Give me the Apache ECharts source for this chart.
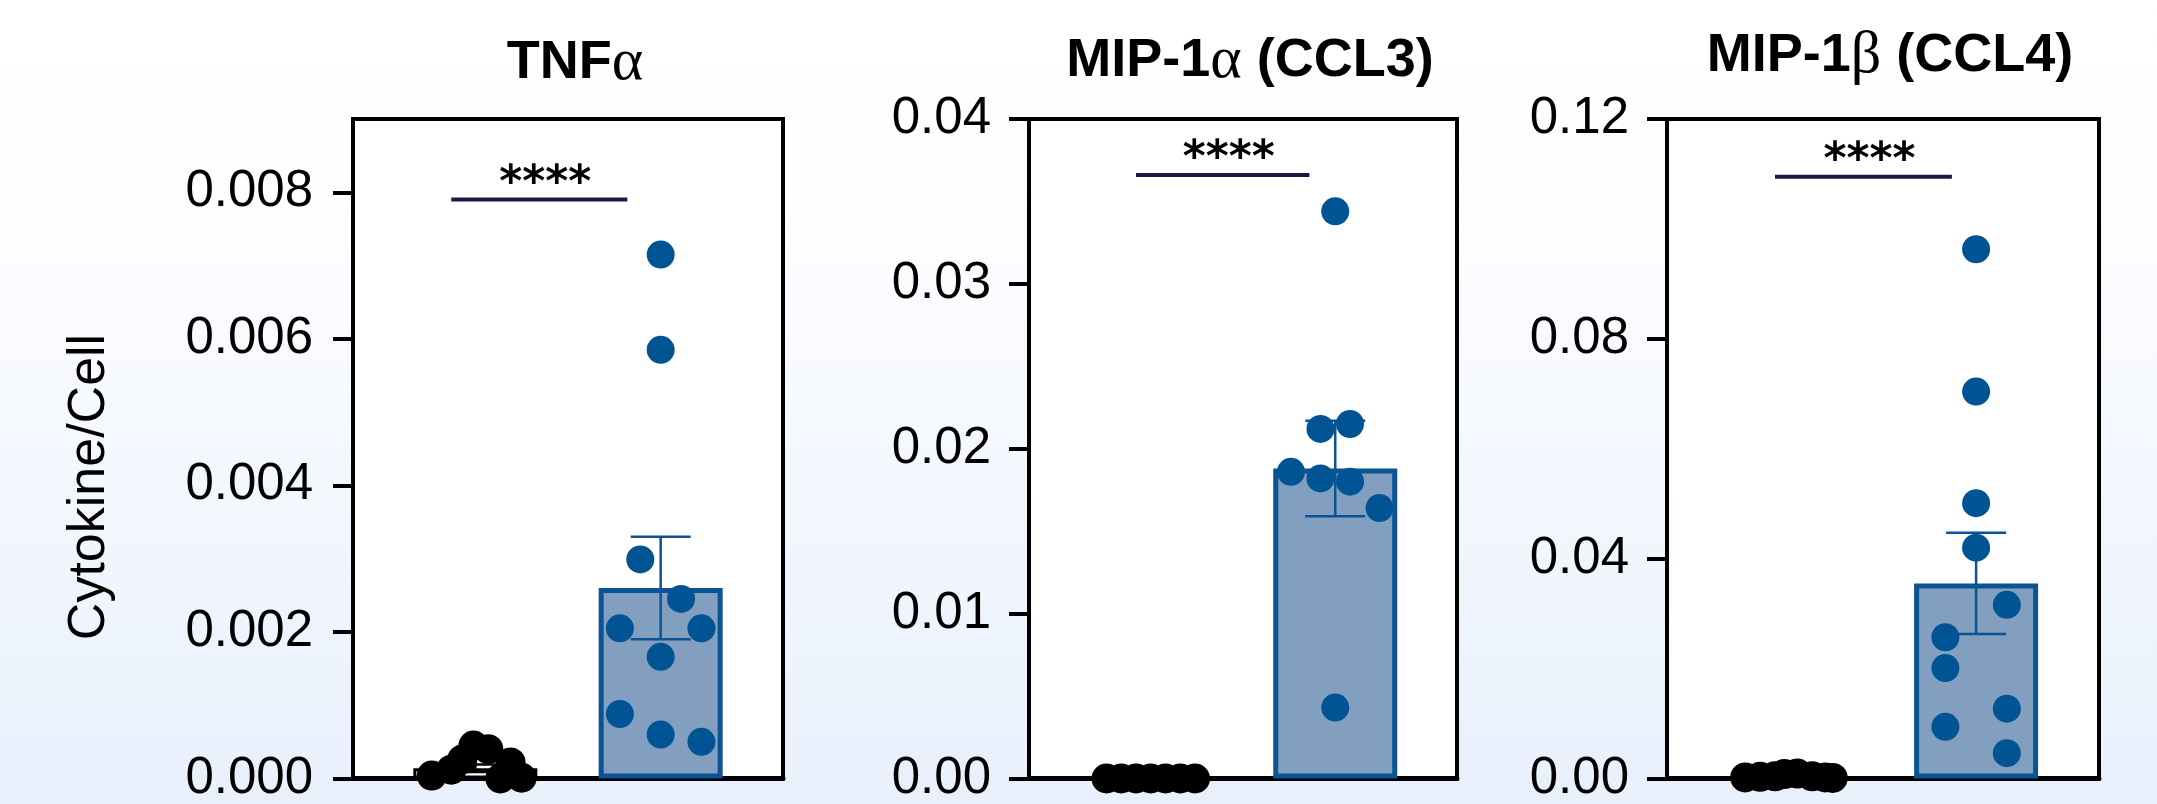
<!DOCTYPE html>
<html>
<head>
<meta charset="utf-8">
<script src="https://cdn.jsdelivr.net/npm/echarts@6/dist/echarts.min.js"></script>
<style>
  html, body { margin: 0; padding: 0; }
  #chart { width: 2157px; height: 804px; }
</style>
</head>
<body>
<div id="chart"></div>
<script>
// ---- data ----
var titles = ['TNF{g|α}', 'MIP-1{g|α} (CCL3)', 'MIP-1{g|β} (CCL4)'];
var yName = 'Cytokine/Cell';
var stars = '****';

// TNFa
var tnfCtrl = [0.00004, 0.00012, 0.00026, 0.00045, 0.0004, 0.00022, 0, 0.00001];
var tnfCtrlJitter = [-0.235, -0.13, -0.07, -0.01, 0.07, 0.19, 0.135, 0.25];
var tnfTreat = [0.00715, 0.00585, 0.00299, 0.00245, 0.00205, 0.00205, 0.00166, 0.00088, 0.0006, 0.0005];
var tnfTreatJitter = [0, 0, -0.11, 0.11, -0.22, 0.22, 0, -0.22, 0, 0.22];
var tnfMean = [0.00014, 0.0026];
var tnfSem = [0.00005, 0.0007];
var tnfSig = [-0.13, 0.82, 0.0079];
var tnfTicks = [0, 0.002, 0.004, 0.006, 0.008];
var tnfTickLabels = ['0.000', '0.002', '0.004', '0.006', '0.008'];
var tnfMax = 0.009;

// MIP-1a (CCL3)
var ccl3Ctrl = [0, 0, 0, 0, 0, 0, 0];
var ccl3CtrlJitter = [-0.24, -0.16, -0.08, 0, 0.08, 0.16, 0.24];
var ccl3Treat = [0.0344, 0.0212, 0.0215, 0.0186, 0.0182, 0.018, 0.0164, 0.0043];
var ccl3TreatJitter = [0, -0.08, 0.08, -0.24, -0.08, 0.08, 0.24, 0];
var ccl3Mean = [0, 0.0188];
var ccl3Sem = [0, 0.0029];
var ccl3Sig = [-0.08, 0.86, 0.0366];
var ccl3Ticks = [0, 0.01, 0.02, 0.03, 0.04];
var ccl3TickLabels = ['0.00', '0.01', '0.02', '0.03', '0.04'];
var ccl3Max = 0.04;

// MIP-1b (CCL4)
var ccl4Ctrl = [0.0002, 0.0003, 0.0004, 0.0008, 0.0009, 0.0004, 0.0002, 0.0001];
var ccl4CtrlJitter = [-0.24, -0.16, -0.08, -0.03, 0.04, 0.12, 0.19, 0.23];
var ccl4Treat = [0.0963, 0.0704, 0.0501, 0.042, 0.0316, 0.0257, 0.0201, 0.0127, 0.0094, 0.0046];
var ccl4TreatJitter = [0, 0, 0, 0, 0.165, -0.165, -0.165, 0.165, -0.165, 0.165];
var ccl4Mean = [0.0004, 0.0355];
var ccl4Sem = [0.0001, 0.0092];
var ccl4Sig = [-0.08, 0.87, 0.1095];
var ccl4Ticks = [0, 0.04, 0.08, 0.12];
var ccl4TickLabels = ['0.00', '0.04', '0.08', '0.12'];
var ccl4Max = 0.12;

var panels = [
    { ctrl: tnfCtrl, ctrlJ: tnfCtrlJitter, treat: tnfTreat, treatJ: tnfTreatJitter, mean: tnfMean, sem: tnfSem, sig: tnfSig, ticks: tnfTicks, labels: tnfTickLabels, max: tnfMax },
    { ctrl: ccl3Ctrl, ctrlJ: ccl3CtrlJitter, treat: ccl3Treat, treatJ: ccl3TreatJitter, mean: ccl3Mean, sem: ccl3Sem, sig: ccl3Sig, ticks: ccl3Ticks, labels: ccl3TickLabels, max: ccl3Max },
    { ctrl: ccl4Ctrl, ctrlJ: ccl4CtrlJitter, treat: ccl4Treat, treatJ: ccl4TreatJitter, mean: ccl4Mean, sem: ccl4Sem, sig: ccl4Sig, ticks: ccl4Ticks, labels: ccl4TickLabels, max: ccl4Max }
];

// ---- layout / style ----
var grids = [
    { left: 353, right: 1374, top: 119, bottom: 23 },
    { left: 1029, right: 700, top: 119, bottom: 25 },
    { left: 1667, right: 58, top: 119, bottom: 24 }
];
var titleX = [570, 1245, 1885];
var titleTop = [30, 28, 23];
var labelMargin = [40, 38, 38];
var font = '"Liberation Sans", Arial, sans-serif';
var dotBlue = '#005493';
var barFill = '#829fbf';
var barEdge = '#0b5394';
var sigColor = '#1b1947';

function errorItem(params, api) {
    var x = api.value(0), m = api.value(1), s = api.value(2);
    var top = api.coord([x, m + s]);
    var bot = api.coord([x, m - s]);
    var color = x < 0.5 ? '#000' : barEdge;
    var st = { stroke: color, lineWidth: 2.5 };
    return {
        type: 'group',
        children: [
            { type: 'line', shape: { x1: top[0], y1: top[1], x2: bot[0], y2: bot[1] }, style: st },
            { type: 'line', shape: { x1: top[0] - 30, y1: top[1], x2: top[0] + 30, y2: top[1] }, style: st },
            { type: 'line', shape: { x1: bot[0] - 30, y1: bot[1], x2: bot[0] + 30, y2: bot[1] }, style: st }
        ]
    };
}

function sigItem(params, api) {
    var p1 = api.coord([api.value(0), api.value(2)]);
    var p2 = api.coord([api.value(1), api.value(2)]);
    return {
        type: 'group',
        children: [
            { type: 'line', shape: { x1: p1[0], y1: p1[1], x2: p2[0], y2: p2[1] }, style: { stroke: sigColor, lineWidth: 4 } },
            {
                type: 'text',
                style: {
                    text: stars, x: (p1[0] + p2[0]) / 2 + 6, y: p1[1] - 15,
                    align: 'center', verticalAlign: 'middle',
                    font: 'bold 44px "DejaVu Sans"', fill: '#000'
                }
            }
        ]
    };
}

var option = {
    backgroundColor: new echarts.graphic.LinearGradient(0, 0, 0, 1, [
        { offset: 0, color: '#ffffff' },
        { offset: 0.3, color: '#fcfdff' },
        { offset: 1, color: '#e8f0fc' }
    ]),
    animation: false,
    title: [],
    grid: [],
    xAxis: [],
    yAxis: [],
    series: [],
    graphic: [{
        type: 'text',
        x: 90, y: 487,
        rotation: Math.PI / 2,
        style: { text: yName, font: '52px ' + font, align: 'center', verticalAlign: 'middle', fill: '#000' }
    }]
};

panels.forEach(function (p, i) {
    option.title.push({
        text: titles[i],
        left: titleX[i],
        top: titleTop[i],
        textAlign: 'center',
        textStyle: {
            fontFamily: font, fontWeight: 'bold', fontSize: 54, color: '#000', lineHeight: 56,
            rich: { g: { fontFamily: '"Liberation Serif", "DejaVu Serif", serif', fontWeight: 'normal', fontSize: 60, color: '#000', lineHeight: 56 } }
        }
    });
    option.grid.push({
        left: grids[i].left, right: grids[i].right, top: grids[i].top, bottom: grids[i].bottom,
        show: true, backgroundColor: '#fff', borderColor: '#000', borderWidth: 4
    });
    option.xAxis.push({
        type: 'value', gridIndex: i, min: -0.66, max: 1.66,
        axisLine: { show: true, onZero: false, lineStyle: { color: '#000', width: 5 } },
        axisTick: { show: false }, axisLabel: { show: false }, splitLine: { show: false }
    });
    option.yAxis.push({
        type: 'value', gridIndex: i, min: 0, max: p.max,
        axisLine: { show: true, onZero: false, lineStyle: { color: '#000', width: 4 } },
        axisTick: { show: true, inside: false, length: 20, lineStyle: { color: '#000', width: 4 }, customValues: p.ticks },
        axisLabel: {
            customValues: p.ticks, margin: labelMargin[i], color: '#000',
            fontFamily: font, fontSize: 51, padding: [0, 0, 6, 0],
            formatter: function (v) {
                var best = 0;
                p.ticks.forEach(function (t, k) { if (Math.abs(t - v) < Math.abs(p.ticks[best] - v)) best = k; });
                return p.labels[best];
            }
        },
        splitLine: { show: false }
    });
    option.series.push({
        type: 'bar', xAxisIndex: i, yAxisIndex: i, barWidth: 124, z: 2,
        data: [
            { value: [0, p.mean[0]], itemStyle: { color: '#fff', borderColor: '#000', borderWidth: 3 } },
            { value: [1, p.mean[1]], itemStyle: { color: barFill, borderColor: barEdge, borderWidth: 5 } }
        ]
    });
    option.series.push({
        type: 'custom', xAxisIndex: i, yAxisIndex: i, z: 3, renderItem: errorItem,
        data: [[0, p.mean[0], p.sem[0]], [1, p.mean[1], p.sem[1]]]
    });
    option.series.push({
        type: 'scatter', xAxisIndex: i, yAxisIndex: i, z: 4, symbolSize: 30,
        itemStyle: { color: '#000', opacity: 1 },
        data: p.ctrl.map(function (v, k) { return [0 + p.ctrlJ[k], v]; })
    });
    option.series.push({
        type: 'scatter', xAxisIndex: i, yAxisIndex: i, z: 4, symbolSize: 28,
        itemStyle: { color: dotBlue, opacity: 1 },
        data: p.treat.map(function (v, k) { return [1 + p.treatJ[k], v]; })
    });
    option.series.push({
        type: 'custom', xAxisIndex: i, yAxisIndex: i, z: 5, renderItem: sigItem,
        data: [p.sig]
    });
});

var mychart = echarts.init(document.getElementById('chart'));
mychart.setOption(option);
</script>
</body>
</html>
